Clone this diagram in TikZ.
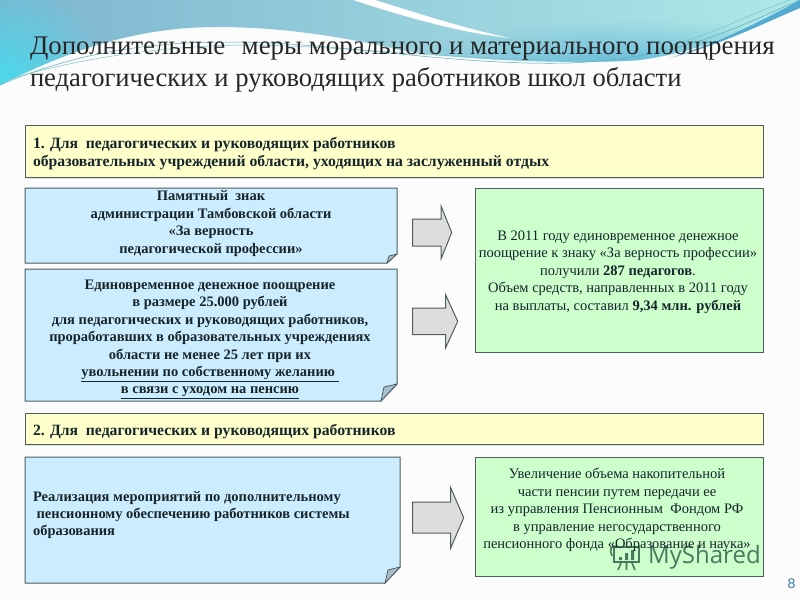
\documentclass[tikz,border=0pt]{standalone}
\usepackage{fontspec}
\setmainfont{Liberation Serif}
\newfontfamily\wmfont{Open Sans}
\newfontfamily\numfont{Liberation Sans}
\usetikzlibrary{fadings}
\definecolor{pagebg}{HTML}{FBFCFB}
\definecolor{txt}{HTML}{15252A}
\definecolor{edge}{HTML}{4F5D5D}
\definecolor{yel}{HTML}{FFFFCC}
\definecolor{blu}{HTML}{CCECFF}
\definecolor{grn}{HTML}{CCFFCC}
\definecolor{foldc}{HTML}{A6C0CE}
\definecolor{arrowc}{HTML}{DDDDDD}
\definecolor{skyA}{HTML}{7DB6D0}
\definecolor{skyM}{HTML}{8CCBDC}
\definecolor{skyB}{HTML}{46DCEE}
\definecolor{tealA}{HTML}{B0E8E8}
\definecolor{tealB}{HTML}{4FAFD6}
\definecolor{bandc}{HTML}{55AAD2}
\definecolor{lineA}{HTML}{5AAFB9}
\definecolor{lineB}{HTML}{78C3C8}
\definecolor{wmc}{HTML}{153F32}
\definecolor{numc}{HTML}{3C78A5}
\tikzfading[name=softspot,inner color=transparent!0,outer color=transparent!100]
\tikzset{
  x=1pt,y=-1pt,
  plainbox/.style={draw=edge,line width=1pt},
  foldbox/.style={plainbox,fill=blu},
  foldflap/.style={draw=edge,line width=0.8pt,fill=foldc},
  blockarrow/.style={draw=edge,line width=1pt,fill=arrowc},
  lbl/.style={inner sep=0pt,outer sep=0pt,text=txt,align=center,font=\fontsize{14.5}{17.4}\selectfont},
  blbl/.style={lbl,font=\fontsize{14.5}{17.4}\selectfont\bfseries},
  leftlbl/.style={blbl,align=left,anchor=west},
  headlbl/.style={leftlbl,font=\fontsize{15.7}{18}\selectfont\bfseries},
  titlelbl/.style={lbl,anchor=base west,text=black!85},
  thinwave/.style={draw=#1,line width=0.5pt}
}
\begin{document}
\begin{tikzpicture}
\useasboundingbox (0,0) rectangle (800,600);
\fill[pagebg] (0,0) rectangle (800,600);
% header waves
\begin{scope}
\clip (0,0) -- (800,0) -- (800,4) .. controls (745,28) and (710,50) .. (640,60)
  .. controls (590,64) and (470,62) .. (400,50)
  .. controls (340,36) and (280,27) .. (217,27)
  .. controls (130,27) and (60,55) .. (0,85) -- cycle;
\shade[left color=skyA,middle color=skyM,right color=tealA] (0,0) rectangle (800,90);
\fill[skyB,path fading=softspot] (0,90) circle[radius=110pt];
\fill[tealB,path fading=softspot,opacity=0.8] (640,70) ellipse[x radius=240pt,y radius=50pt];
\end{scope}
\fill[white] (353,0) -- (375,0) .. controls (420,14) and (470,30) .. (510,38)
  .. controls (470,34) and (420,22) .. (353,0) -- cycle;
\fill[bandc] (800,8) .. controls (760,25) and (720,45) .. (670,58)
  .. controls (720,42) and (760,22) .. (800,0) -- cycle;
\draw[thinwave=lineA] (0,85) .. controls (70,55) and (140,42) .. (230,42)
  .. controls (340,42) and (450,66) .. (570,63) .. controls (680,58) and (730,30) .. (800,0);
\draw[thinwave=lineB] (0,82) .. controls (70,60) and (150,47) .. (240,45)
  .. controls (340,45) and (450,60) .. (570,60) .. controls (680,56) and (720,25) .. (790,0);
% title
\node[titlelbl,font=\fontsize{26.9}{33}\selectfont] (titleA) at (30,54) {Дополнительные\ \ \hskip 3pt меры морального и материального поощрения};
\node[titlelbl,font=\fontsize{26.6}{33}\selectfont] (titleB) at (30,86) {педагогических и руководящих работников школ области};
% yellow bars
\fill[black!12] (26,127) rectangle (764,178.5);
\path[plainbox,fill=yel] (25,125) rectangle (763,177);
\node[headlbl] (head1) at (33,154) {1. Для\ \ педагогических и руководящих работников\\образовательных учреждений области, уходящих на заслуженный отдых};
\fill[black!12] (26,415) rectangle (764,446);
\path[plainbox,fill=yel] (25,413) rectangle (763,444.5);
\node[headlbl] (head2) at (33,431.5) {2. Для\ \ педагогических и руководящих работников};
% blue folded boxes
\path[foldbox] (25,188) -- (397,188) -- (397,254) -- (387,263) -- (25,263) -- cycle;
\path[foldflap] (397,254) -- (387,263) -- (389,256) -- cycle;
\node[blbl] (blueA) at (211,223.5) {Памятный\ \ знак\\администрации\ Тамбовской области\\«За верность\\педагогической профессии»};
\path[foldbox] (25,269) -- (397,269) -- (397,384) -- (381,401) -- (25,401) -- cycle;
\path[foldflap] (397,384) -- (381,401) -- (384,387) -- cycle;
\node[blbl] (blueB) at (210,339.5) {Единовременное денежное поощрение\\в размере 25.000 рублей\\для педагогических и руководящих работников,\\проработавших в образовательных учреждениях\\области не менее 25 лет при их\\\underline{увольнении по собственному желанию\ }\\\underline{в связи с уходом на пенсию}};
\path[foldbox] (25,457) -- (400,457) -- (400,567) -- (385,583) -- (25,583) -- cycle;
\path[foldflap] (400,567) -- (385,583) -- (388,570) -- cycle;
\node[leftlbl] (blueC) at (33,515) {Реализация мероприятий\ по дополнительному\\\ пенсионному обеспечению работников системы\\образования};
% green boxes
\path[plainbox,fill=grn] (475,188) rectangle (763,352);
\node[lbl] (greenA) at (618,272) {В 2011 году единовременное денежное\\поощрение к знаку «За верность профессии»\\получили \textbf{287 педагогов}.\\Объем средств, направленных в 2011 году\\на выплаты, составил \textbf{9,34 млн. рублей}};
\path[plainbox,fill=grn] (475,457) rectangle (763,576);
\node[lbl] (greenB) at (617,510) {Увеличение объема накопительной\\части пенсии путем передачи ее\\из управления Пенсионным\ \ Фондом РФ\\в управление негосударственного\\пенсионного фонда «Образование и наука»};
% block arrows
\path[blockarrow] (412.7,219) -- (441,219) -- (441,206) -- (451.7,232.5) -- (441,259) -- (441,246) -- (412.7,246) -- cycle;
\path[blockarrow] (412.7,308) -- (445.7,308) -- (445.7,295) -- (457.7,321.3) -- (445.7,347.7) -- (445.7,334.7) -- (412.7,334.7) -- cycle;
\path[blockarrow] (412.7,502) -- (450.7,502) -- (450.7,487.7) -- (463.7,517.8) -- (450.7,548) -- (450.7,533) -- (412.7,533) -- cycle;
% watermark
\begin{scope}[opacity=0.7,draw=wmc,fill=wmc]
\draw[line width=2pt,fill=none] (614,547) rectangle (639,562);
\draw[line width=1.6pt] (617,547) .. controls (611,544) and (609,550) .. (612,556);
\fill (619,557) rectangle (622,560) (625,553) rectangle (628,560) (631,550) rectangle (634,560);
\draw[line width=1.6pt] (621,563) -- (618,570) (626.5,563) -- (626.5,570) (632,563) -- (635,570);
\node[inner sep=0pt,anchor=base west,text=wmc,font=\fontsize{24}{24}\wmfont] (wmark) at (648,563) {MyShared};
\end{scope}
% page number
\node[inner sep=0pt,text=numc,font=\fontsize{14}{14}\numfont] (pagenum) at (791.5,584) {8};
\end{tikzpicture}
\end{document}
